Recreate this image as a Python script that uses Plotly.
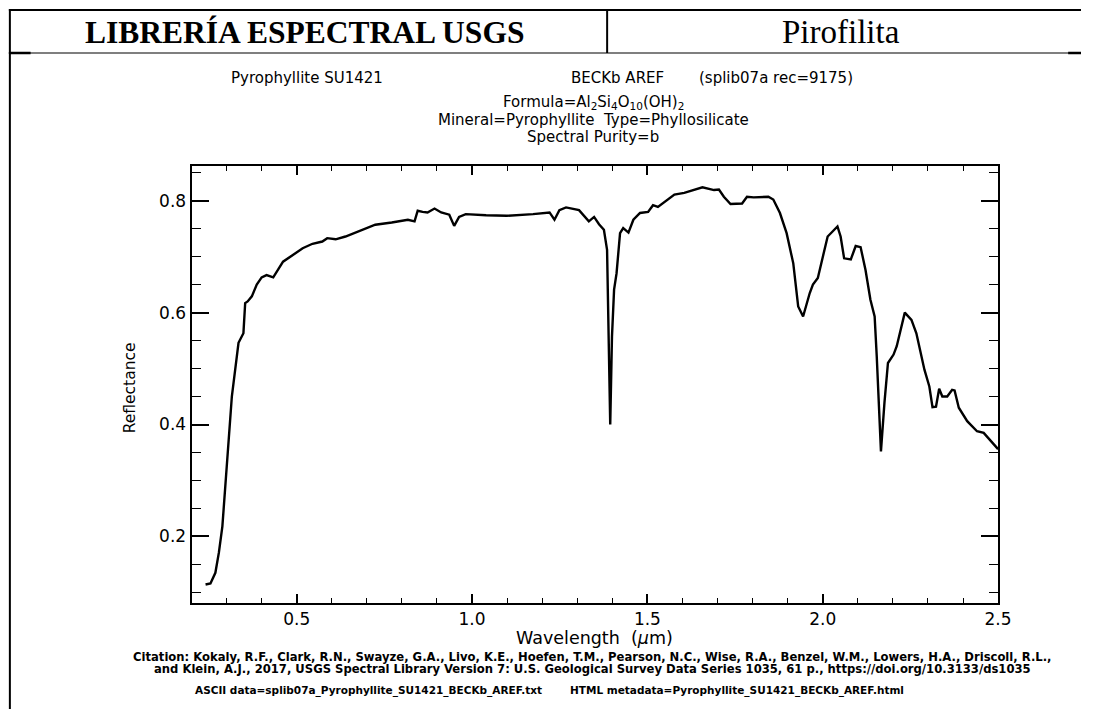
import plotly.graph_objects as go

# ---------------- data ----------------
wavelength = [0.240, 0.254, 0.268, 0.278, 0.288, 0.297, 0.306, 0.315, 0.334, 0.348,
              0.353, 0.360, 0.372, 0.386, 0.400, 0.414, 0.433, 0.443, 0.461, 0.489,
              0.517, 0.545, 0.573, 0.587, 0.611, 0.639, 0.667, 0.705, 0.724, 0.771,
              0.817, 0.836, 0.845, 0.859, 0.873, 0.893, 0.912, 0.935, 0.949, 0.963,
              0.982, 1.040, 1.099, 1.174, 1.221, 1.235, 1.249, 1.268, 1.305, 1.333,
              1.348, 1.362, 1.376, 1.385, 1.390, 1.394, 1.399, 1.405, 1.412, 1.422,
              1.431, 1.446, 1.460, 1.479, 1.502, 1.516, 1.530, 1.554, 1.577, 1.605,
              1.634, 1.657, 1.690, 1.704, 1.718, 1.737, 1.770, 1.784, 1.803, 1.845,
              1.859, 1.878, 1.897, 1.916, 1.930, 1.944, 1.963, 1.972, 1.986, 2.000,
              2.014, 2.028, 2.042, 2.051, 2.061, 2.080, 2.094, 2.108, 2.122, 2.136,
              2.148, 2.154, 2.166, 2.176, 2.186, 2.202, 2.211, 2.234, 2.253, 2.267,
              2.290, 2.304, 2.313, 2.323, 2.332, 2.341, 2.355, 2.369, 2.376, 2.388,
              2.412, 2.440, 2.459, 2.500]
reflectance = [0.114, 0.116, 0.135, 0.171, 0.218, 0.296, 0.385, 0.450, 0.546, 0.563,
               0.617, 0.620, 0.629, 0.650, 0.663, 0.667, 0.663, 0.673, 0.691, 0.703,
               0.715, 0.723, 0.727, 0.733, 0.731, 0.736, 0.743, 0.752, 0.757, 0.761,
               0.766, 0.763, 0.782, 0.780, 0.779, 0.786, 0.779, 0.775, 0.755, 0.771,
               0.776, 0.774, 0.773, 0.776, 0.779, 0.766, 0.783, 0.788, 0.783, 0.763,
               0.771, 0.758, 0.748, 0.712, 0.557, 0.400, 0.557, 0.641, 0.670, 0.742,
               0.751, 0.743, 0.766, 0.778, 0.780, 0.792, 0.789, 0.801, 0.811, 0.814,
               0.819, 0.824, 0.819, 0.820, 0.807, 0.794, 0.795, 0.807, 0.806, 0.807,
               0.802, 0.778, 0.742, 0.688, 0.611, 0.593, 0.635, 0.650, 0.662, 0.700,
               0.736, 0.745, 0.754, 0.736, 0.697, 0.695, 0.719, 0.717, 0.676, 0.623,
               0.593, 0.522, 0.352, 0.439, 0.510, 0.525, 0.540, 0.600, 0.587, 0.563,
               0.498, 0.468, 0.431, 0.432, 0.464, 0.450, 0.450, 0.462, 0.461, 0.430,
               0.406, 0.388, 0.385, 0.356]

x_ticks = [0.5, 1.0, 1.5, 2.0, 2.5]
y_ticks = [0.2, 0.4, 0.6, 0.8]
x_range = [0.2, 2.5]
y_range = [0.081, 0.862]

header_left = "LIBRERÍA ESPECTRAL USGS"
header_right = "Pirofilita"
title_1a = "Pyrophyllite SU1421"
title_1b = "BECKb AREF"
title_1c = "(splib07a rec=9175)"
title_2 = "Formula=Al<sub>2</sub>Si<sub>4</sub>O<sub>10</sub>(OH)<sub>2</sub>"
title_3 = "Mineral=Pyrophyllite  Type=Phyllosilicate"
title_4 = "Spectral Purity=b"
x_title = "Wavelength  (<i>μ</i>m)"
y_title = "Reflectance"
citation_1 = ("Citation: Kokaly, R.F., Clark, R.N., Swayze, G.A., Livo, K.E., Hoefen, T.M., "
              "Pearson, N.C., Wise, R.A., Benzel, W.M., Lowers, H.A., Driscoll, R.L.,")
citation_2 = ("and Klein, A.J., 2017, USGS Spectral Library Version 7: U.S. Geological Survey "
              "Data Series 1035, 61 p., https://doi.org/10.3133/ds1035")
ascii_txt = "ASCII data=splib07a_Pyrophyllite_SU1421_BECKb_AREF.txt"
html_txt = "HTML metadata=Pyrophyllite_SU1421_BECKb_AREF.html"

# ---------------- layout helpers (screen pixel -> paper) ----------------
W, H = 1095, 709


def px(x):
    return x / W


def py(y):
    return 1 - y / H


PLOT_L, PLOT_R, PLOT_T, PLOT_B = 194, 1011, 166, 603
SANS = "DejaVu Sans, Verdana, sans-serif"
SERIF = "Liberation Serif, Times New Roman, serif"

fig = go.Figure()
fig.add_trace(go.Scatter(x=wavelength, y=reflectance, mode="lines",
                         line=dict(color="black", width=2.4), showlegend=False,
                         hoverinfo="skip"))

axis_common = dict(showgrid=False, zeroline=False, showline=True, linecolor="black",
                   linewidth=2, ticks="inside", mirror="allticks", tickcolor="black",
                   tickwidth=1.6, tickformat=".1f",
                   tickfont=dict(family=SANS, size=17, color="black"))

fig.update_xaxes(domain=[px(PLOT_L), px(PLOT_R)], range=x_range, tickvals=x_ticks,
                 ticklen=9, ticklabelstandoff=0,
                 minor=dict(dtick=0.1, tick0=0.2, ticks="inside", ticklen=5,
                            tickcolor="black", tickwidth=1.4),
                 **axis_common)
fig.update_yaxes(domain=[py(PLOT_B), py(PLOT_T)], range=y_range, tickvals=y_ticks,
                 ticklen=17, ticklabelstandoff=0,
                 minor=dict(dtick=0.05, tick0=0.0, ticks="inside", ticklen=9,
                            tickcolor="black", tickwidth=1.4),
                 **axis_common)

annotations = []


def add_text(text, x, y, size, family=SANS, xanchor="center", bold=False, angle=0):
    annotations.append(dict(text=("<b>%s</b>" % text) if bold else text,
                            x=px(x), y=py(y), xref="paper", yref="paper",
                            xanchor=xanchor, yanchor="middle", showarrow=False,
                            textangle=angle,
                            font=dict(family=family, size=size, color="black")))


# header table text
add_text(header_left, 308, 32, 31.5, family=SERIF, bold=True)
add_text(header_right, 852, 32, 33, family=SERIF)
# plot titles
add_text(title_1a, 232, 78, 15, xanchor="left")
add_text(title_1b, 576, 78, 15, xanchor="left")
add_text(title_1c, 706, 78, 15, xanchor="left")
add_text(title_2, 601, 102, 15)
add_text(title_3, 601, 120, 15)
add_text(title_4, 601, 137, 15)
# axis titles
add_text(x_title, 602, 638, 17.5)
add_text(y_title, 132, 388, 15.5, angle=-90)
# citation
add_text(citation_1, 600, 657, 11.6, bold=True)
add_text(citation_2, 600, 669, 11.6, bold=True)
add_text(ascii_txt, 195, 690, 10.5, xanchor="left", bold=True)
add_text(html_txt, 575, 690, 10.5, xanchor="left", bold=True)

shapes = []


def add_line(x0, y0, x1, y1, width):
    shapes.append(dict(type="line", xref="paper", yref="paper",
                       x0=px(x0), y0=py(y0), x1=px(x1), y1=py(y1),
                       line=dict(color="black", width=width)))


add_line(9, 10, W, 10, 2)        # table top
add_line(10, 9, 10, H, 2)        # table left border
add_line(9, 53, W, 53, 1.2)      # header bottom
add_line(9, 53, 31, 53, 2.5)
add_line(1082, 53, W, 53, 2.5)
add_line(615, 10, 615, 53, 2)    # header divider

fig.update_layout(width=W, height=H, margin=dict(l=0, r=0, t=0, b=0),
                  paper_bgcolor="white", plot_bgcolor="white",
                  annotations=annotations, shapes=shapes, showlegend=False)

# remove the default 8px page margin so the figure fills the window exactly
fig.write_html("out.html", config={"displayModeBar": False},
               post_script="document.body.style.margin='0';"
                           "document.body.style.overflow='hidden';"
                           "document.documentElement.style.overflow='hidden';")
